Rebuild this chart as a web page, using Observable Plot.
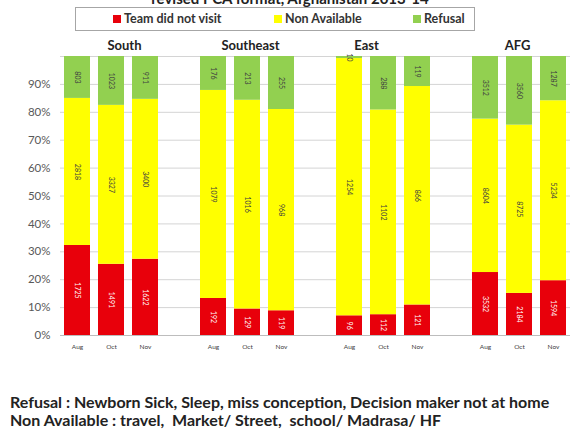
<!DOCTYPE html>
<html>
<head>
<meta charset="utf-8">
<script src="https://cdn.jsdelivr.net/npm/d3@7"></script>
<script src="https://cdn.jsdelivr.net/npm/@observablehq/plot@0.6"></script>
<style>
  html, body { margin: 0; padding: 0; background: #fff; }
  #wrap { position: relative; width: 570px; height: 432px; overflow: hidden; font-family: Lato, "Open Sans", sans-serif; }
  #title { position: absolute; top: -11px; left: 0; width: 580px; text-align: center; font-weight: bold; font-size: 15px; color: #222; }
  #legend { position: absolute; left: 75px; top: 7px; width: 398px; height: 22px; border: 1px solid #a6a6a6; }
  .li { position: absolute; top: 3px; font-weight: bold; font-size: 12.5px; color: #333; line-height: 15px; white-space: nowrap; }
  .sw { display: inline-block; width: 8px; height: 8px; margin-right: 3px; vertical-align: 0px; }
  #chart { position: absolute; left: 0; top: 36px; }
  #note { position: absolute; left: 10px; top: 393px; font-weight: bold; font-size: 16px; line-height: 18px; color: #222; white-space: nowrap; }
</style>
</head>
<body>
<div id="wrap">
  <div id="title">revised PCA format, Afghanistan 2013-14</div>
  <div id="legend"></div>
  <div id="chart"></div>
  <div id="note">Refusal : Newborn Sick, Sleep, miss conception, Decision maker not at home<br>Non Available : travel,&nbsp; Market/ Street,&nbsp; school/ Madrasa/ HF</div>
</div>
<script>
const regions = ["South", "Southeast", "East", "AFG"];
const months = ["Aug", "Oct", "Nov"];
const categories = ["Team did not visit", "Non Available", "Refusal"];
const colors = ["#E8000B", "#FFFF00", "#92D050"];
// values per region (South, Southeast, East, AFG) x month (Aug, Oct, Nov)
const notVisited   = [1725, 1491, 1622,  192,  129,  119,   96,  112,  121, 3532, 2184, 1594];
const nonAvailable = [2818, 3327, 3400, 1079, 1016,  968, 1254, 1102,  866, 8604, 8725, 5234];
const refusal      = [ 803, 1023,  911,  176,  213,  255,   10,  288,  119, 3512, 3560, 1287];
const yTicks = [0, 0.1, 0.2, 0.3, 0.4, 0.5, 0.6, 0.7, 0.8, 0.9];
const yGrid = [0.1, 0.2, 0.3, 0.4, 0.5, 0.6, 0.7, 0.8, 0.9, 1];

// build table + x domain (with empty slots between regions)
const series = [notVisited, nonAvailable, refusal];
const table = [];
const domain = [];
const realKeys = [];
regions.forEach((r, ri) => {
  months.forEach((m, mi) => {
    const key = r + "|" + m;
    domain.push(key);
    realKeys.push(key);
    categories.forEach((c, ci) => {
      table.push({key, region: r, month: m, category: c, value: series[ci][ri * 3 + mi]});
    });
  });
  if (ri < regions.length - 1) domain.push("gap" + ri);
});

// legend
const legend = document.getElementById("legend");
const legendLeft = [37, 198, 337];
categories.forEach((c, i) => {
  const d = document.createElement("div");
  d.className = "li";
  d.style.left = legendLeft[i] + "px";
  d.innerHTML = `<span class="sw" style="background:${colors[i]}"></span>${c}`;
  legend.appendChild(d);
});

const stackOpts = {x: "key", y: "value", z: "category", offset: "normalize"};
const regionDx = [13, 3, -17, -2];

const chart = Plot.plot({
  width: 570,
  height: 320,
  marginLeft: 60,
  marginRight: 0,
  marginTop: 20,
  marginBottom: 21,
  style: {fontFamily: "Lato, 'Open Sans', sans-serif", background: "transparent", overflow: "visible"},
  x: {type: "band", domain, paddingInner: 0.24, paddingOuter: 0.1, axis: null, label: null},
  y: {domain: [0, 1], axis: null, label: null},
  color: {domain: categories, range: colors},
  marks: [
    Plot.gridY(yGrid, {stroke: "#d4d4d4", strokeOpacity: 1}),
    Plot.ruleY([0], {stroke: "#bdbdbd"}),
    Plot.barY(table, {x: "key", y: "value", fill: "category", offset: "normalize"}),
    Plot.text(table, Plot.stackY({...stackOpts,
      text: d => d.category === categories[0] ? String(d.value) : "",
      rotate: 90, fill: "white", fontSize: 7})),
    Plot.text(table, Plot.stackY({...stackOpts,
      text: d => d.category !== categories[0] ? String(d.value) : "",
      rotate: 90, fill: "#404040", fontSize: 7})),
    Plot.axisY(yTicks, {tickFormat: d => Math.round(d * 100) + "%", tickSize: 0, tickPadding: 10,
      fontSize: 11.5, fill: "#595959", label: null}),
    Plot.axisX(realKeys, {tickFormat: k => k.split("|")[1], tickSize: 0, tickPadding: 9,
      fontSize: 6.5, fill: "#404040", label: null}),
    ...regions.map((r, i) => Plot.text([r], {x: d => d + "|" + months[1], text: d => d,
      frameAnchor: "top", dy: -16, dx: regionDx[i],
      fontWeight: "bold", fontSize: 13, fill: "#222"}))
  ]
});
document.getElementById("chart").appendChild(chart);
</script>
</body>
</html>
